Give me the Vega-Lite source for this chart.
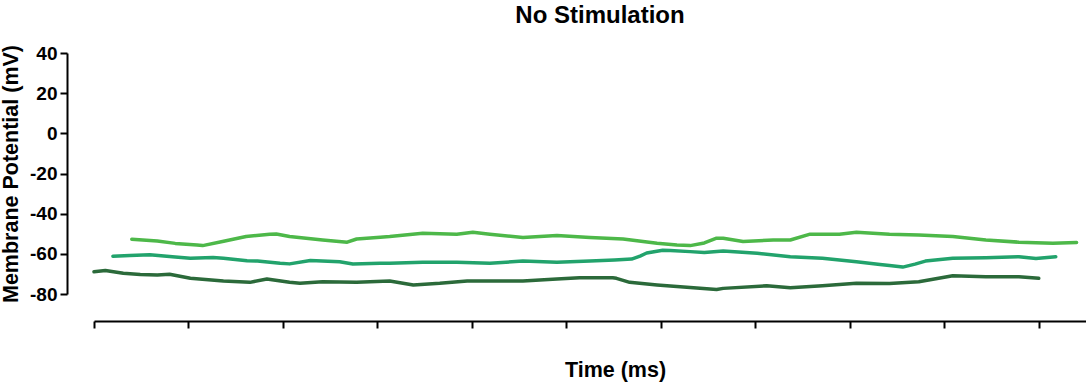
{
  "$schema": "https://vega.github.io/schema/vega-lite/v6.json",
  "width": 992,
  "height": 241,
  "autosize": "none",
  "padding": {"left": 94, "top": 53, "right": 0, "bottom": 89},
  "background": "white",
  "title": {
    "text": "No Stimulation",
    "font": "Liberation Sans",
    "fontSize": 24,
    "fontWeight": "bold",
    "color": "black",
    "anchor": "middle",
    "dx": 10,
    "offset": 16
  },
  "config": {
    "view": {"stroke": null},
    "axis": {
      "domainColor": "black",
      "domainWidth": 2,
      "tickColor": "black",
      "tickWidth": 2,
      "tickSize": 7,
      "grid": false,
      "labelFont": "Liberation Sans",
      "labelFontWeight": "bold",
      "labelColor": "black",
      "titleFont": "Liberation Sans",
      "titleFontWeight": "bold",
      "titleColor": "black"
    }
  },
  "data": {
    "values": [
      {"series": "A", "t": 40, "v": -52.7},
      {"series": "A", "t": 67, "v": -53.6},
      {"series": "A", "t": 86, "v": -54.8},
      {"series": "A", "t": 109, "v": -55.6},
      {"series": "A", "t": 115, "v": -55.9},
      {"series": "A", "t": 136, "v": -53.9},
      {"series": "A", "t": 161, "v": -51.4},
      {"series": "A", "t": 186, "v": -50.2},
      {"series": "A", "t": 193, "v": -50.1},
      {"series": "A", "t": 207, "v": -51.4},
      {"series": "A", "t": 242, "v": -53.1},
      {"series": "A", "t": 268, "v": -54.2},
      {"series": "A", "t": 278, "v": -52.6},
      {"series": "A", "t": 303, "v": -51.7},
      {"series": "A", "t": 313, "v": -51.4},
      {"series": "A", "t": 348, "v": -49.8},
      {"series": "A", "t": 384, "v": -50.2},
      {"series": "A", "t": 401, "v": -49.3},
      {"series": "A", "t": 419, "v": -50.2},
      {"series": "A", "t": 454, "v": -51.9},
      {"series": "A", "t": 490, "v": -50.9},
      {"series": "A", "t": 525, "v": -51.9},
      {"series": "A", "t": 560, "v": -52.6},
      {"series": "A", "t": 596, "v": -54.7},
      {"series": "A", "t": 617, "v": -55.6},
      {"series": "A", "t": 631, "v": -55.9},
      {"series": "A", "t": 646, "v": -54.6},
      {"series": "A", "t": 659, "v": -52.2},
      {"series": "A", "t": 666, "v": -52.2},
      {"series": "A", "t": 687, "v": -53.9},
      {"series": "A", "t": 719, "v": -53.1},
      {"series": "A", "t": 737, "v": -53.1},
      {"series": "A", "t": 758, "v": -50.2},
      {"series": "A", "t": 789, "v": -50.2},
      {"series": "A", "t": 807, "v": -49.3},
      {"series": "A", "t": 842, "v": -50.2},
      {"series": "A", "t": 873, "v": -50.6},
      {"series": "A", "t": 909, "v": -51.4},
      {"series": "A", "t": 944, "v": -53.1},
      {"series": "A", "t": 979, "v": -54.2},
      {"series": "A", "t": 1015, "v": -54.7},
      {"series": "A", "t": 1040, "v": -54.3},

      {"series": "B", "t": 20, "v": -61.2},
      {"series": "B", "t": 38, "v": -60.8},
      {"series": "B", "t": 59, "v": -60.5},
      {"series": "B", "t": 86, "v": -61.6},
      {"series": "B", "t": 102, "v": -62.2},
      {"series": "B", "t": 126, "v": -61.8},
      {"series": "B", "t": 137, "v": -62.2},
      {"series": "B", "t": 162, "v": -63.4},
      {"series": "B", "t": 173, "v": -63.6},
      {"series": "B", "t": 197, "v": -64.7},
      {"series": "B", "t": 207, "v": -65.0},
      {"series": "B", "t": 229, "v": -63.3},
      {"series": "B", "t": 260, "v": -63.9},
      {"series": "B", "t": 274, "v": -65.1},
      {"series": "B", "t": 303, "v": -64.7},
      {"series": "B", "t": 313, "v": -64.7},
      {"series": "B", "t": 348, "v": -64.2},
      {"series": "B", "t": 384, "v": -64.2},
      {"series": "B", "t": 419, "v": -64.7},
      {"series": "B", "t": 454, "v": -63.6},
      {"series": "B", "t": 490, "v": -64.2},
      {"series": "B", "t": 525, "v": -63.6},
      {"series": "B", "t": 551, "v": -63.1},
      {"series": "B", "t": 569, "v": -62.6},
      {"series": "B", "t": 578, "v": -61.1},
      {"series": "B", "t": 585, "v": -59.6},
      {"series": "B", "t": 602, "v": -58.2},
      {"series": "B", "t": 610, "v": -58.4},
      {"series": "B", "t": 631, "v": -58.9},
      {"series": "B", "t": 646, "v": -59.3},
      {"series": "B", "t": 666, "v": -58.6},
      {"series": "B", "t": 702, "v": -59.7},
      {"series": "B", "t": 737, "v": -61.4},
      {"series": "B", "t": 771, "v": -62.2},
      {"series": "B", "t": 807, "v": -63.9},
      {"series": "B", "t": 832, "v": -65.3},
      {"series": "B", "t": 842, "v": -65.8},
      {"series": "B", "t": 856, "v": -66.6},
      {"series": "B", "t": 869, "v": -65.1},
      {"series": "B", "t": 880, "v": -63.6},
      {"series": "B", "t": 909, "v": -62.2},
      {"series": "B", "t": 944, "v": -61.9},
      {"series": "B", "t": 979, "v": -61.4},
      {"series": "B", "t": 997, "v": -62.3},
      {"series": "B", "t": 1018, "v": -61.4},

      {"series": "C", "t": 0, "v": -68.9},
      {"series": "C", "t": 12, "v": -68.3},
      {"series": "C", "t": 31, "v": -69.7},
      {"series": "C", "t": 49, "v": -70.3},
      {"series": "C", "t": 67, "v": -70.5},
      {"series": "C", "t": 80, "v": -70.2},
      {"series": "C", "t": 102, "v": -72.2},
      {"series": "C", "t": 137, "v": -73.5},
      {"series": "C", "t": 165, "v": -74.2},
      {"series": "C", "t": 183, "v": -72.5},
      {"series": "C", "t": 207, "v": -74.2},
      {"series": "C", "t": 218, "v": -74.7},
      {"series": "C", "t": 242, "v": -73.9},
      {"series": "C", "t": 278, "v": -74.2},
      {"series": "C", "t": 313, "v": -73.5},
      {"series": "C", "t": 338, "v": -75.5},
      {"series": "C", "t": 366, "v": -74.7},
      {"series": "C", "t": 395, "v": -73.5},
      {"series": "C", "t": 419, "v": -73.5},
      {"series": "C", "t": 454, "v": -73.5},
      {"series": "C", "t": 490, "v": -72.5},
      {"series": "C", "t": 514, "v": -71.9},
      {"series": "C", "t": 549, "v": -71.9},
      {"series": "C", "t": 553, "v": -72.2},
      {"series": "C", "t": 567, "v": -74.2},
      {"series": "C", "t": 596, "v": -75.5},
      {"series": "C", "t": 631, "v": -76.8},
      {"series": "C", "t": 659, "v": -77.8},
      {"series": "C", "t": 666, "v": -77.2},
      {"series": "C", "t": 712, "v": -75.9},
      {"series": "C", "t": 737, "v": -76.9},
      {"series": "C", "t": 771, "v": -75.9},
      {"series": "C", "t": 807, "v": -74.7},
      {"series": "C", "t": 842, "v": -74.8},
      {"series": "C", "t": 873, "v": -73.9},
      {"series": "C", "t": 909, "v": -70.9},
      {"series": "C", "t": 944, "v": -71.4},
      {"series": "C", "t": 979, "v": -71.4},
      {"series": "C", "t": 1000, "v": -72.2}
    ]
  },
  "mark": {"type": "line", "strokeWidth": 3.5, "strokeCap": "round", "strokeJoin": "round"},
  "encoding": {
    "x": {
      "field": "t",
      "type": "quantitative",
      "scale": {"domain": [0, 1050], "nice": false, "zero": false},
      "axis": {
        "title": "Time (ms)",
        "titleFontSize": 21.5,
        "titleX": 521,
        "titlePadding": 30,
        "values": [0, 100, 200, 300, 400, 500, 600, 700, 800, 900, 1000],
        "labels": false,
        "offset": 27
      }
    },
    "y": {
      "field": "v",
      "type": "quantitative",
      "scale": {"domain": [-80, 40], "nice": false, "zero": false},
      "axis": {
        "title": "Membrane Potential (mV)",
        "titleFontSize": 21.5,
        "titlePadding": 7,
        "values": [-80, -60, -40, -20, 0, 20, 40],
        "labelExpr": "toString(datum.value)",
        "labelFontSize": 19,
        "labelPadding": 3,
        "offset": 27
      }
    },
    "color": {
      "field": "series",
      "type": "nominal",
      "scale": {"domain": ["A", "B", "C"], "range": ["#4db849", "#22a36c", "#2b6a3a"]},
      "legend": null
    }
  }
}
